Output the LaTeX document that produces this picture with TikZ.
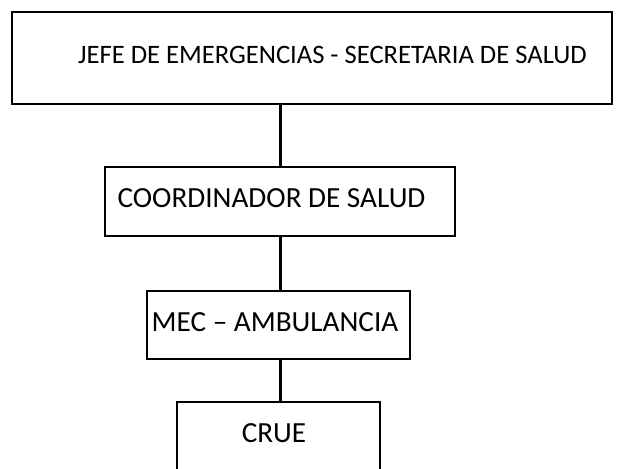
\documentclass[tikz,border=0pt]{standalone}
\usepackage{fontspec}
\setmainfont{Carlito}
\begin{document}
\begin{tikzpicture}[x=0.5pt,y=-0.5pt,
  boxstyle/.style={draw=black, line width=1.1pt, fill=white, rectangle, inner sep=0pt},
  lbl/.style={font=\fontsize{14.6}{17}\selectfont, inner sep=0pt},
  toplbl/.style={font=\fontsize{13.3}{16}\selectfont, inner sep=0pt},
  conn/.style={draw=black, line width=1.5pt}]
\useasboundingbox (0,0) rectangle (620,468);
\clip (0,0) rectangle (620,468);
\fill[white] (0,0) rectangle (620,468);
\coordinate (cx) at (280,0);
\node[boxstyle, minimum width=300pt, minimum height=46pt] (b1) at (312,58) {};
\node[boxstyle, minimum width=175pt, minimum height=34.5pt] (b2) at (280,201.5) {};
\node[boxstyle, minimum width=131.5pt, minimum height=34pt] (b3) at (278.5,325) {};
\node[boxstyle, minimum width=101.5pt, minimum height=50pt] (b4) at (278.5,452) {};
\node[toplbl] (t1) at (332.5,55) {JEFE DE EMERGENCIAS - SECRETARIA DE SALUD};
\node[lbl] (t2) at (271.5,198) {COORDINADOR DE SALUD};
\node[lbl] (t3) at (275,322) {MEC – AMBULANCIA};
\node[lbl] (t4) at (274,433) {CRUE};
\draw[conn] (b1.south -| cx) -- (b2.north -| cx);
\draw[conn] (b2.south -| cx) -- (b3.north -| cx);
\draw[conn] (b3.south -| cx) -- (b4.north -| cx);
\end{tikzpicture}
\end{document}
